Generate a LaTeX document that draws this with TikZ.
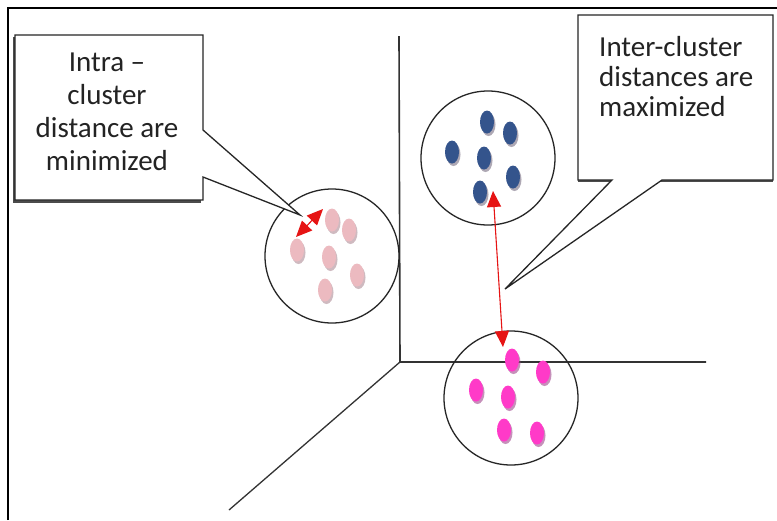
\documentclass[tikz,border=0pt]{standalone}
\usepackage{fontspec}
\setmainfont{Carlito}
\usetikzlibrary{arrows.meta,shapes.geometric,shadows}
\definecolor{pinkdot}{RGB}{236,186,192}
\definecolor{pinkshadow}{RGB}{175,140,150}
\definecolor{bluedot}{RGB}{52,84,140}
\definecolor{blueshadow}{RGB}{120,110,130}
\definecolor{magdot}{RGB}{255,58,200}
\definecolor{magshadow}{RGB}{160,70,140}
\definecolor{txt}{RGB}{35,35,35}
\definecolor{arrowred}{RGB}{230,20,20}
\tikzset{
  dotbase/.style={ellipse,minimum width=14pt,minimum height=23pt,inner sep=0pt},
  pinkpt/.style={dotbase,fill=pinkdot,drop shadow={shadow xshift=1.5pt,shadow yshift=-2.5pt,fill=pinkshadow,opacity=0.6}},
  bluept/.style={dotbase,fill=bluedot,drop shadow={shadow xshift=1.5pt,shadow yshift=-2.5pt,fill=blueshadow,opacity=0.6}},
  magpt/.style={dotbase,fill=magdot,drop shadow={shadow xshift=1.5pt,shadow yshift=-2.5pt,fill=magshadow,opacity=0.6}},
  cluster/.style={circle,draw=black!85,line width=1.3pt,minimum size=134pt,inner sep=0pt},
  axis/.style={draw=black!80,line width=1.6pt},
  callout/.style={draw=black!85,line width=1.3pt,fill=white,line join=miter},
  calloutshadow/.style={fill=black!70},
  redarrow/.style={draw=arrowred,line width=1.1pt,{Triangle[length=16pt,width=14pt]}-{Triangle[length=16pt,width=14pt]}},
  labeltext/.style={text=txt,inner sep=0pt}
}
\begin{document}
\begin{tikzpicture}[x=1pt,y=-1pt]
\useasboundingbox (0,0) rectangle (777,520);
\fill[white] (0,0) rectangle (777,520);
% outer frame
\draw[line width=2.2pt,black] (8,520) -- (8,8) -- (777,8);
% axes
\coordinate (origin) at (400,362);
\coordinate (ytop) at (399,36);
\coordinate (xend) at (706,362);
\coordinate (zend) at (229,510);
\draw[axis] (ytop) -- (origin) -- (xend);
\draw[axis,line width=1.3pt] (origin) -- (zend);
% clusters
\node[cluster] (pinkc) at (332,256) {};
\node[cluster] (bluec) at (488,158) {};
\node[cluster] (magc) at (511,398) {};
% pink dots
\node[pinkpt] (p1) at (332,220) {};
\node[pinkpt] (p2) at (349,230) {};
\node[pinkpt] (p3) at (297,250) {};
\node[pinkpt] (p4) at (329,257) {};
\node[pinkpt] (p5) at (357,275) {};
\node[pinkpt] (p6) at (325,290) {};
% blue dots
\node[bluept] (b1) at (487,122) {};
\node[bluept] (b2) at (510,133) {};
\node[bluept] (b3) at (452,152) {};
\node[bluept] (b4) at (484,158) {};
\node[bluept] (b5) at (513,177) {};
\node[bluept] (b6) at (480,192) {};
% magenta dots
\node[magpt] (m1) at (512,360) {};
\node[magpt] (m2) at (543,372) {};
\node[magpt] (m3) at (476,390) {};
\node[magpt] (m4) at (508,397) {};
\node[magpt] (m5) at (504,430) {};
\node[magpt] (m6) at (537,433) {};
% left callout
\coordinate (ltip) at (300,215);
\fill[calloutshadow] (13,37) rectangle (201,203);
\draw[callout] (15,35) -- (203,35) -- (203,130) -- (ltip) -- (203,177) -- (203,200) -- (15,200) -- cycle;
\node[labeltext,align=center,font=\fontsize{29}{33}\selectfont] (intra) at (107,112) {Intra –\\cluster\\distance are\\minimized};
% right callout
\coordinate (rtip) at (505,289);
\fill[calloutshadow] (578,17) rectangle (773,182);
\draw[callout] (578,15) -- (773,15) -- (773,180) -- (662,180) -- (rtip) -- (612,180) -- (578,180) -- cycle;
\node[labeltext,align=left,anchor=west,font=\fontsize{29}{30}\selectfont] (inter) at (599,77) {Inter-cluster\\distances are\\maximized};
% red arrows
\coordinate (a1s) at (296,237);
\coordinate (a1e) at (323,209);
\draw[redarrow] (a1s) -- (a1e);
\coordinate (a2s) at (493,191);
\coordinate (a2e) at (503,347);
\draw[redarrow] (a2s) -- (a2e);
\end{tikzpicture}
\end{document}
